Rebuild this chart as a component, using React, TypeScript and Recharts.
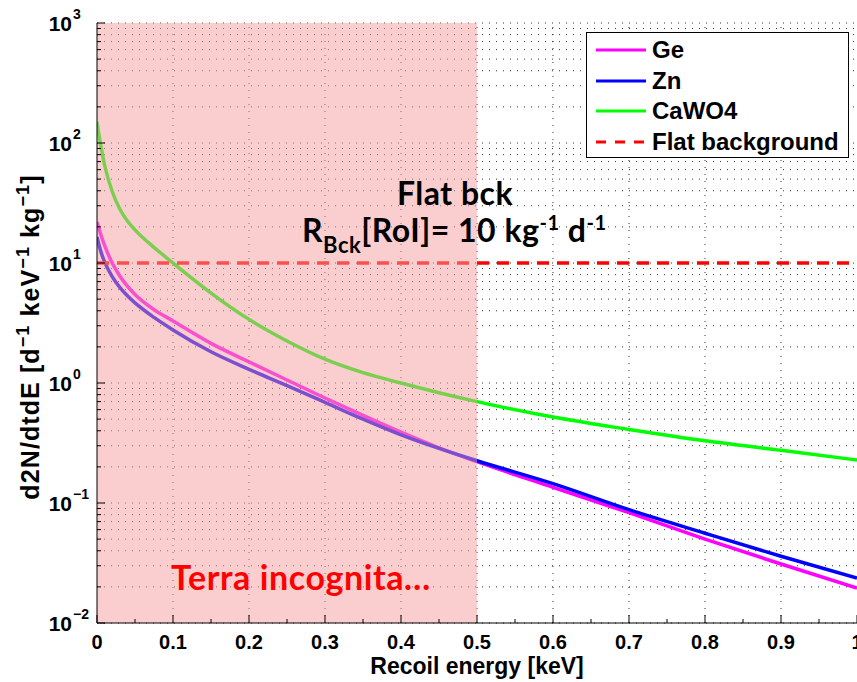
import React from "react";
import {
  LineChart,
  Line,
  XAxis,
  YAxis,
  CartesianGrid,
  ReferenceArea,
  ReferenceLine,
} from "recharts";

// recoil energy [keV]
const energy = [0, 0.005, 0.01, 0.02, 0.03, 0.04, 0.05, 0.075, 0.1, 0.15, 0.2, 0.25, 0.3, 0.35, 0.4, 0.45, 0.5, 0.6, 0.7, 0.8, 0.9, 1.0];
const ge = [22, 17.3, 14.0, 10.0, 7.8, 6.41, 5.46, 4.09, 3.29, 2.14, 1.5, 1.06, 0.75, 0.537, 0.389, 0.288, 0.221, 0.135, 0.083, 0.05, 0.031, 0.0195];
const zn = [16.5, 12.5, 10.2, 7.7, 6.27, 5.33, 4.65, 3.52, 2.77, 1.82, 1.3, 0.95, 0.69, 0.5, 0.37, 0.285, 0.225, 0.145, 0.088, 0.056, 0.036, 0.0237];
const cawo4 = [150, 94.6, 65.5, 39.4, 28.2, 22.4, 18.9, 13.5, 10, 5.62, 3.39, 2.24, 1.58, 1.22, 1.0, 0.83, 0.7, 0.52, 0.41, 0.33, 0.275, 0.228];
const flatBck = [10, 10, 10, 10, 10, 10, 10, 10, 10, 10, 10, 10, 10, 10, 10, 10, 10, 10, 10, 10, 10, 10];

const xMajor = [0, 0.1, 0.2, 0.3, 0.4, 0.5, 0.6, 0.7, 0.8, 0.9, 1];
const xMinor = [0.05, 0.15, 0.25, 0.35, 0.45, 0.55, 0.65, 0.75, 0.85, 0.95];
const yMajor = [0.01, 0.1, 1, 10, 100, 1000];
const yExp = ["\u22122", "\u22121", "0", "1", "2", "3"];
const yMinor = yMajor.slice(0, -1).flatMap((d) => [2, 3, 4, 5, 6, 7, 8, 9].map((m) => +(m * d).toPrecision(3)));

const series = [
  { key: "ge", name: "Ge", color: "#ff00ff", dash: undefined as string | undefined },
  { key: "zn", name: "Zn", color: "#0000ff", dash: undefined },
  { key: "cawo4", name: "CaWO4", color: "#00ff00", dash: undefined },
  { key: "flat", name: "Flat background", color: "#ff0000", dash: "12 8" },
];

const data = energy.map((e, i) => ({ e, ge: ge[i], zn: zn[i], cawo4: cawo4[i], flat: flatBck[i] }));

const AXIS_FONT = "'Liberation Sans', Arial, sans-serif";
const NOTE_FONT = "Lato, 'Open Sans', sans-serif";

function YTick(props: any) {
  const { y, payload } = props;
  const v = payload.value;
  const idx = yMajor.indexOf(v);
  const x0 = 97;
  if (idx < 0) {
    return <line x1={x0} x2={x0 + 4} y1={y} y2={y} stroke="#000" strokeWidth={1} />;
  }
  return (
    <g>
      <line x1={x0} x2={x0 + 8} y1={y} y2={y} stroke="#000" strokeWidth={1} />
      <text x={72} y={y + 8} textAnchor="end" fontFamily={AXIS_FONT} fontWeight="bold" fontSize={21} fill="#000">
        10
      </text>
      <text x={73} y={y - 4} textAnchor="start" fontFamily={AXIS_FONT} fontWeight="bold" fontSize={14} fill="#000">
        {yExp[idx]}
      </text>
    </g>
  );
}

function XTick(props: any) {
  const { x, y, payload } = props;
  const v = payload.value;
  const major = xMajor.includes(v);
  return (
    <g>
      <line x1={x} x2={x} y1={y} y2={y - (major ? 8 : 4)} stroke="#000" strokeWidth={1} />
      {major && (
        <text x={x} y={y + 26} textAnchor="middle" fontFamily={AXIS_FONT} fontWeight="bold" fontSize={20} fill="#000">
          {v === 0 || v === 1 ? String(v) : v.toFixed(1)}
        </text>
      )}
    </g>
  );
}

function TopTick(props: any) {
  const { x, y, payload } = props;
  const major = xMajor.includes(payload.value);
  return <line x1={x} x2={x} y1={y} y2={y + (major ? 8 : 4)} stroke="#000" strokeWidth={1} />;
}

function LegendBox() {
  return (
    <div
      style={{
        position: "absolute",
        left: 586,
        top: 32,
        width: 263,
        height: 126,
        border: "1.5px solid #000",
        background: "#fff",
        boxSizing: "border-box",
        padding: "2px 0 0 9px",
      }}
    >
      {series.map((s) => (
        <div key={s.key} style={{ display: "flex", alignItems: "center", height: 30.5 }}>
          <svg width={50} height={6} style={{ marginRight: 6 }}>
            <line x1={0} x2={50} y1={3} y2={3} stroke={s.color} strokeWidth={3} strokeDasharray={s.dash ? "10 9" : undefined} />
          </svg>
          <span style={{ fontFamily: AXIS_FONT, fontWeight: "bold", fontSize: 24, color: "#000", lineHeight: "24px" }}>
            {s.name}
          </span>
        </div>
      ))}
    </div>
  );
}

function Notes() {
  return (
    <svg width={857} height={682} style={{ position: "absolute", left: 0, top: 0, pointerEvents: "none" }}>
      <text
        transform="translate(39,337) rotate(-90)"
        textAnchor="middle"
        fontFamily={AXIS_FONT}
        fontWeight="bold"
        fontSize={25}
        letterSpacing={1.1}
        fill="#000"
      >
        <tspan>d2N/dtdE [d</tspan>
        <tspan dy={-10} fontSize={18}>{"\u22121"}</tspan>
        <tspan dy={10}> keV</tspan>
        <tspan dy={-10} fontSize={18}>{"\u22121"}</tspan>
        <tspan dy={10}> kg</tspan>
        <tspan dy={-10} fontSize={18}>{"\u22121"}</tspan>
        <tspan dy={10}>]</tspan>
      </text>
      <text x={477} y={674} textAnchor="middle" fontFamily={AXIS_FONT} fontWeight="bold" fontSize={23} fill="#000">
        Recoil energy [keV]
      </text>
      <text x={455} y={205} textAnchor="middle" fontFamily={NOTE_FONT} fontWeight="bold" fontSize={32} letterSpacing={0.5} fill="#000">
        Flat bck
      </text>
      <text x={302} y={242} fontFamily={NOTE_FONT} fontWeight="bold" fontSize={32} letterSpacing={0.5} fill="#000">
        <tspan>R</tspan>
        <tspan dy={11} fontSize={22}>Bck</tspan>
        <tspan dy={-11}>[RoI]= 10 kg</tspan>
        <tspan dy={-12} fontSize={20}>-1</tspan>
        <tspan dy={12}> d</tspan>
        <tspan dy={-12} fontSize={20}>-1</tspan>
      </text>
      <text x={171} y={590} fontFamily={NOTE_FONT} fontWeight="bold" fontSize={34} letterSpacing={0.6} fill="#ff0000">
        Terra incognita…
      </text>
    </svg>
  );
}

export default function App() {
  const allX = [...xMajor, ...xMinor].sort((a, b) => a - b);
  return (
    <div style={{ position: "absolute", left: 0, top: 0, width: 857, height: 682, overflow: "hidden", background: "#fff" }}>
      <LineChart width={880} height={682} data={data} margin={{ top: 23, right: 23, bottom: 0, left: 0 }}>
        <CartesianGrid vertical={false} stroke="#333" strokeDasharray="1 6" />
        {xMajor.slice(1, -1).map((v) => (
          <ReferenceLine key={v} x={v} stroke="#333" strokeDasharray="1 6" />
        ))}
        <XAxis
          dataKey="e"
          type="number"
          domain={[0, 1]}
          ticks={allX}
          interval={0}
          height={59}
          tickSize={0}
          tickMargin={0}
          tickLine={false}
          axisLine={{ stroke: "#000" }}
          tick={<XTick />}
          allowDataOverflow
        />
        <XAxis
          xAxisId="top"
          orientation="top"
          dataKey="e"
          type="number"
          domain={[0, 1]}
          ticks={allX}
          interval={0}
          height={0}
          tickSize={0}
          tickMargin={0}
          tickLine={false}
          axisLine={{ stroke: "#000" }}
          tick={<TopTick />}
        />
        <YAxis
          scale="log"
          domain={[0.01, 1000]}
          ticks={[...yMajor, ...yMinor].sort((a, b) => a - b)}
          interval={0}
          width={97}
          tickSize={0}
          tickMargin={0}
          tickLine={false}
          axisLine={{ stroke: "#000" }}
          tick={<YTick />}
          allowDataOverflow
        />
        {series.map((s) => (
          <Line
            key={s.key}
            dataKey={s.key}
            name={s.name}
            type="monotone"
            stroke={s.color}
            strokeWidth={3.5}
            strokeDasharray={s.dash}
            dot={false}
            activeDot={false}
            isAnimationActive={false}
          />
        ))}
        <ReferenceArea x1={0} x2={0.5} y1={0.01} y2={1000} fill="#f59d9d" fillOpacity={0.5} stroke="none" zIndex={450} />
      </LineChart>
      <Notes />
      <LegendBox />
    </div>
  );
}
